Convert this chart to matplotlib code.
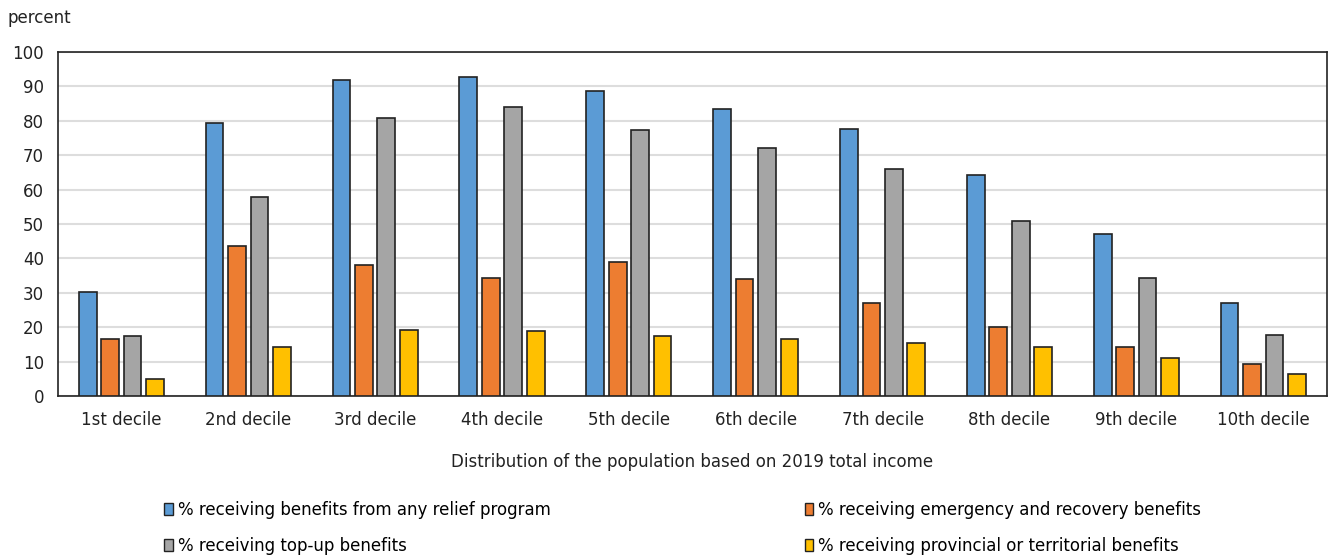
import numpy as np
import matplotlib.pyplot as plt
from matplotlib.patches import Patch

deciles = ["1st decile", "2nd decile", "3rd decile", "4th decile", "5th decile",
           "6th decile", "7th decile", "8th decile", "9th decile", "10th decile"]
any_relief = [30.2, 79.3, 91.8, 92.6, 88.6, 83.5, 77.6, 64.2, 47.2, 27.1]
emergency = [16.5, 43.5, 38.0, 34.3, 39.0, 33.9, 27.1, 20.2, 14.2, 9.2]
top_up = [17.5, 57.8, 80.7, 84.0, 77.2, 72.1, 66.1, 50.9, 34.4, 17.8]
provincial = [4.9, 14.2, 19.2, 18.8, 17.5, 16.5, 15.5, 14.2, 11.0, 6.4]

series = [
    ("% receiving benefits from any relief program", any_relief, "#5B9BD5"),
    ("% receiving emergency and recovery benefits", emergency, "#ED7D31"),
    ("% receiving top-up benefits", top_up, "#A5A5A5"),
    ("% receiving provincial or territorial benefits", provincial, "#FFC000"),
]

plt.rcParams['font.family'] = ['DejaVu Sans']
fs = 12

fig = plt.figure(figsize=(13.32, 5.57), dpi=100)
ax = fig.add_axes([0.0435, 0.289, 0.9525, 0.6176])

x = np.arange(len(deciles))
step = 0.177
width = 0.14
for i, (name, vals, col) in enumerate(series):
    ax.bar(x + (i - 1.5) * step, vals, width, color=col, edgecolor="#222222",
           linewidth=1.2, zorder=3, label=name)

ax.set_xlim(-0.5, len(deciles) - 0.5)
ax.set_ylim(0, 100)
ax.set_yticks(range(0, 101, 10))
ax.set_xticks(x)
ax.set_xticklabels(deciles)
ax.tick_params(axis="both", length=0, labelsize=fs, colors="#222222")
ax.tick_params(axis="x", pad=11)
ax.tick_params(axis="y", pad=10)
ax.grid(axis="y", color="#DDDDDD", linewidth=1.5, zorder=0)
for s in ax.spines.values():
    s.set_color("#222222")
    s.set_linewidth(1.2)

ax.set_xlabel("Distribution of the population based on 2019 total income",
              fontsize=fs, labelpad=17, color="#222222")
fig.text(0.006, 0.959, "percent", fontsize=fs, color="#222222")

handles = [Patch(facecolor=c, edgecolor="#222222", label=n) for n, _, c in series]
order = [0, 2, 1, 3]
fig.legend([handles[i] for i in order], [series[i][0] for i in order],
           loc="upper left", bbox_to_anchor=(0.117, 0.1156), ncol=2, frameon=False,
           fontsize=fs, handlelength=0.5, handleheight=0.75, handletextpad=0.3,
           columnspacing=15.25, labelspacing=1.08, borderpad=0)

fig.savefig("out.png", dpi=100)
